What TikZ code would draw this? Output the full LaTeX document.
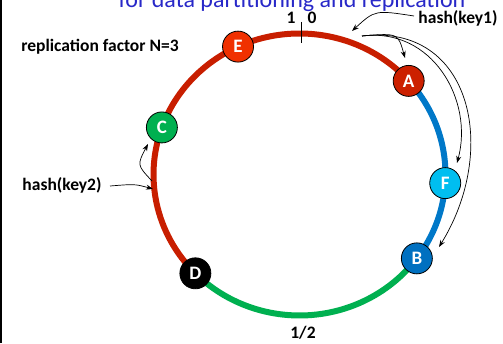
\documentclass[tikz,border=0pt]{standalone}
\usepackage{fontspec}
\setmainfont{Carlito}
\usetikzlibrary{arrows.meta,calc}
\definecolor{ringred}{RGB}{200,30,0}
\definecolor{ringblue}{RGB}{0,120,200}
\definecolor{ringgreen}{RGB}{0,176,80}
\definecolor{nodeE}{RGB}{240,48,0}
\definecolor{nodeA}{RGB}{204,32,0}
\definecolor{nodeF}{RGB}{0,190,240}
\definecolor{nodeB}{RGB}{0,112,192}
\definecolor{nodeC}{RGB}{0,176,80}
\definecolor{titleblue}{RGB}{40,40,200}
\tikzset{
  ringnode/.style={circle,draw=black,line width=0.8pt,minimum size=31pt,inner sep=0pt,text=white,font=\bfseries\fontsize{19}{19}\selectfont},
  lbl/.style={font=\bfseries\fontsize{17.5}{18}\selectfont,inner sep=0pt},
  ring/.style={line width=6pt},
  harrow/.style={line width=0.7pt,-{Stealth[length=7pt,width=5pt]}}
}
\begin{document}
\begin{tikzpicture}[x=1pt,y=1pt]
\useasboundingbox (0,0) rectangle (503,343);
\draw[line width=1.2pt] (1,0) -- (1,343);
\coordinate (O) at (299.5,168.5);
% title (clipped at top)
\begin{scope}
\clip (0,0) rectangle (503,343);
\node[anchor=base,text=titleblue,font=\fontsize{24}{25}\selectfont,inner sep=0pt] (title) at (292,335) {for data partitioning and replication};
\end{scope}
% ring arcs
\draw[ring,ringred] ($(O)+(41.6:146 and 141)$) arc[start angle=41.6,end angle=224.5,x radius=146,y radius=141];
\draw[ring,ringblue] ($(O)+(-36.5:146 and 141)$) arc[start angle=-36.5,end angle=41.6,x radius=146,y radius=141];
\draw[ring,ringgreen] ($(O)+(224.5:146 and 141)$) arc[start angle=224.5,end angle=323.5,x radius=146,y radius=141];
% tick
\coordinate (t1) at (301,321);
\coordinate (t2) at (301,300);
\draw[line width=1pt] (t1) -- (t2);
\node[lbl] (one) at (291,325) {1};
\node[lbl] (zero) at (312,325) {0};
% nodes
\node[ringnode,fill=nodeE] (E) at ($(O)+(114.9:146 and 141)$) {E};
\node[ringnode,fill=nodeA] (A) at ($(O)+(41.6:146 and 141)$) {A};
\node[ringnode,fill=nodeF] (F) at ($(O)+(-3.5:146 and 141)$) {F};
\node[ringnode,fill=nodeB] (B) at ($(O)+(-36.5:146 and 141)$) {B};
\node[ringnode,fill=black] (D) at ($(O)+(224.5:146 and 141)$) {D};
\node[ringnode,fill=nodeC] (C) at ($(O)+(160.5:146 and 141)$) {C};
% labels
\node[lbl] (rep) at (100,296) {replication factor N=3};
\node[lbl] (hash1) at (458,325) {hash(key1)};
\node[lbl] (hash2) at (62,158) {hash(key2)};
\node[lbl] (half) at (303,10) {1/2};
% arrows key1
\coordinate (k1s) at (414,327);
\coordinate (k1e) at (352,312);
\draw[harrow] (k1s) .. controls (375,333) .. (k1e);
\coordinate (S) at (362,307);
\coordinate (eA) at (405,285);
\coordinate (eF) at (457,180);
\coordinate (eB) at (439,96);
\draw[harrow] (S) .. controls (398,310) .. (eA);
\draw[harrow] (S) .. controls (432,316) and (474,243) .. (eF);
\draw[harrow] (S) .. controls (472,320) and (499,193) .. (eB);
% arrows key2
\coordinate (k2s) at (110,157);
\coordinate (k2e) at (153,154);
\draw[harrow] (k2s) .. controls (135,159) .. (k2e);
\coordinate (cs) at (152,162);
\coordinate (ce) at (148,199);
\draw[harrow] (cs) .. controls (137,178) .. (ce);
\end{tikzpicture}
\end{document}
